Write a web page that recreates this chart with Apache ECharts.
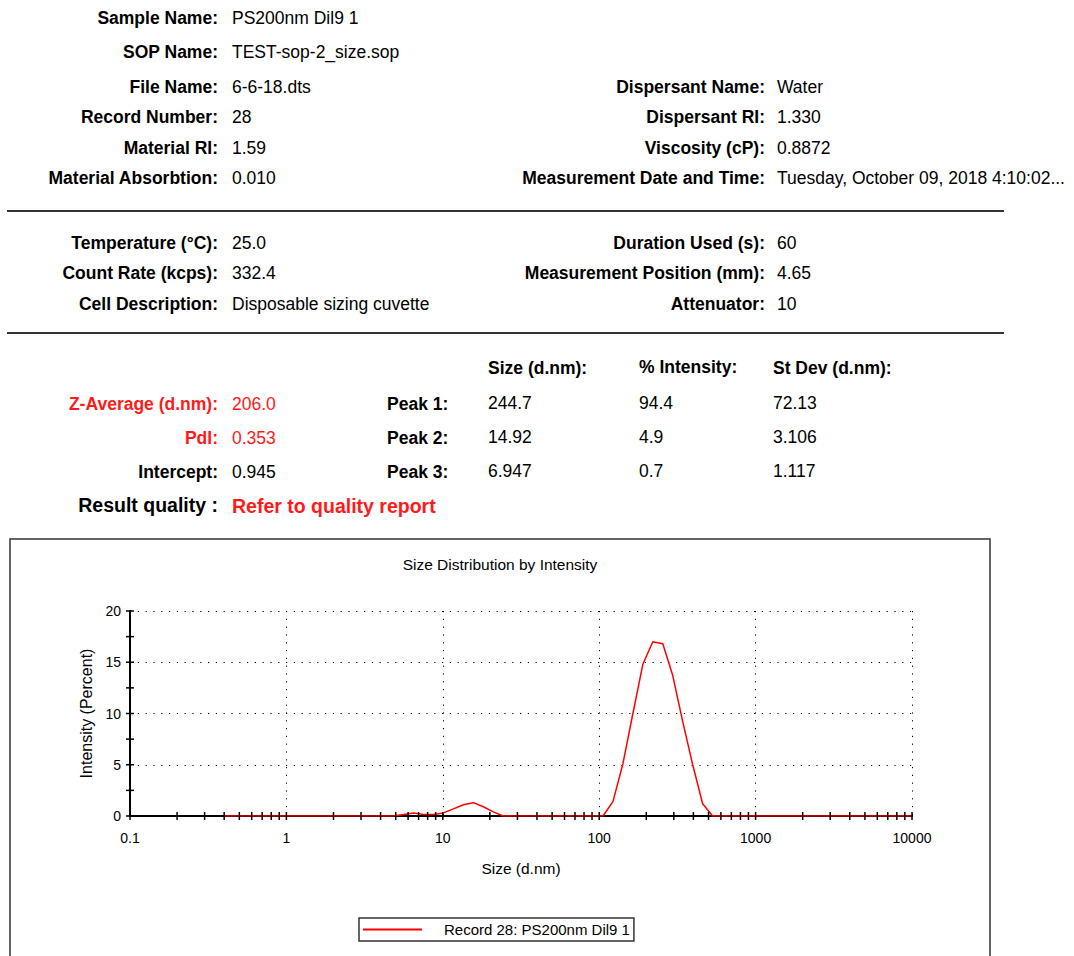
<!DOCTYPE html>
<html>
<head>
<meta charset="utf-8">
<script src="https://cdn.jsdelivr.net/npm/echarts/dist/echarts.min.js"></script>
<style>
  html, body { margin:0; padding:0; background:#fff; }
  body { width:1074px; height:956px; position:relative; overflow:hidden;
         font-family:"Liberation Sans", Arial, sans-serif; color:#000; }
  #chart { position:absolute; left:0; top:0; width:1074px; height:956px; }
  .t { position:absolute; font-size:17.5px; line-height:20px; white-space:nowrap; z-index:2; }
  .b { font-weight:bold; }
  .L { right:856px; text-align:right; }
  .R { right:309px; text-align:right; }
  .v1 { left:232px; }
  .v2 { left:777px; }
  .red { color:#ff1a1a; }
  .big { font-size:19.5px; line-height:22px; }
  .sep { position:absolute; left:7px; width:997px; height:2px; background:#333; z-index:2; }
</style>
</head>
<body>
<div id="chart"></div>

<div class="t b L" style="top:8px">Sample Name:</div><div class="t v1" style="top:8px">PS200nm Dil9 1</div>
<div class="t b L" style="top:42px">SOP Name:</div><div class="t v1" style="top:42px">TEST-sop-2_size.sop</div>
<div class="t b L" style="top:77px">File Name:</div><div class="t v1" style="top:77px">6-6-18.dts</div>
<div class="t b R" style="top:77px">Dispersant Name:</div><div class="t v2" style="top:77px">Water</div>
<div class="t b L" style="top:107px">Record Number:</div><div class="t v1" style="top:107px">28</div>
<div class="t b R" style="top:107px">Dispersant RI:</div><div class="t v2" style="top:107px">1.330</div>
<div class="t b L" style="top:138px">Material RI:</div><div class="t v1" style="top:138px">1.59</div>
<div class="t b R" style="top:138px">Viscosity (cP):</div><div class="t v2" style="top:138px">0.8872</div>
<div class="t b L" style="top:168px">Material Absorbtion:</div><div class="t v1" style="top:168px">0.010</div>
<div class="t b R" style="top:168px">Measurement Date and Time:</div><div class="t v2" style="top:168px">Tuesday, October 09, 2018 4:10:02...</div>

<div class="sep" style="top:210px"></div>

<div class="t b L" style="top:233px">Temperature (°C):</div><div class="t v1" style="top:233px">25.0</div>
<div class="t b R" style="top:233px">Duration Used (s):</div><div class="t v2" style="top:233px">60</div>
<div class="t b L" style="top:263px">Count Rate (kcps):</div><div class="t v1" style="top:263px">332.4</div>
<div class="t b R" style="top:263px">Measurement Position (mm):</div><div class="t v2" style="top:263px">4.65</div>
<div class="t b L" style="top:294px">Cell Description:</div><div class="t v1" style="top:294px">Disposable sizing cuvette</div>
<div class="t b R" style="top:294px">Attenuator:</div><div class="t v2" style="top:294px">10</div>

<div class="sep" style="top:332px"></div>

<div class="t b" style="top:358px;left:488px">Size (d.nm):</div>
<div class="t b" style="top:357px;left:639px">% Intensity:</div>
<div class="t b" style="top:358px;left:773px">St Dev (d.nm):</div>

<div class="t b L red" style="top:394px">Z-Average (d.nm):</div><div class="t v1 red" style="top:394px">206.0</div>
<div class="t b" style="top:394px;left:387px">Peak 1:</div>
<div class="t" style="top:393px;left:488px">244.7</div><div class="t" style="top:393px;left:639px">94.4</div><div class="t" style="top:393px;left:773px">72.13</div>

<div class="t b L red" style="top:428px">PdI:</div><div class="t v1 red" style="top:428px">0.353</div>
<div class="t b" style="top:428px;left:387px">Peak 2:</div>
<div class="t" style="top:427px;left:488px">14.92</div><div class="t" style="top:427px;left:639px">4.9</div><div class="t" style="top:427px;left:773px">3.106</div>

<div class="t b L" style="top:462px">Intercept:</div><div class="t v1" style="top:462px">0.945</div>
<div class="t b" style="top:462px;left:387px">Peak 3:</div>
<div class="t" style="top:461px;left:488px">6.947</div><div class="t" style="top:461px;left:639px">0.7</div><div class="t" style="top:461px;left:773px">1.117</div>

<div class="t b L big" style="top:494px">Result quality :</div>
<div class="t b v1 big red" style="top:495px">Refer to quality report</div>

<script>
// ---- data ----
const sizes = [0.4, 0.4632, 0.5365, 0.6213, 0.7195, 0.8332, 0.9649, 1.117, 1.294, 1.499,
  1.736, 2.01, 2.328, 2.696, 3.122, 3.615, 4.187, 4.849, 5.615, 6.503,
  7.531, 8.721, 10.1, 11.7, 13.54, 15.69, 18.17, 21.04, 24.36, 28.21,
  32.67, 37.84, 43.82, 50.75, 58.77, 68.06, 78.82, 91.28, 105.7, 122.4,
  141.8, 164.2, 190.1, 220.2, 255.0, 295.3, 342.0, 396.1, 458.7, 531.2,
  615.1, 712.4, 825.0, 955.4, 1106, 1281, 1484, 1718, 1990, 2305,
  2669, 3091, 3580, 4145, 4801, 5560, 6439, 7456, 8635, 10000];
const intensity = [0, 0, 0, 0, 0, 0, 0, 0, 0, 0,
  0, 0, 0, 0, 0, 0, 0, 0, 0.15, 0.3,
  0.15, 0.15, 0.3, 0.7, 1.1, 1.3, 0.9, 0.4, 0, 0,
  0, 0, 0, 0, 0, 0, 0, 0, 0, 1.4,
  5.1, 10.0, 14.8, 17.0, 16.8, 13.7, 9.2, 5.0, 1.2, 0,
  0, 0, 0, 0, 0, 0, 0, 0, 0, 0,
  0, 0, 0, 0, 0, 0, 0, 0, 0, 0];
const seriesName = 'Record 28: PS200nm Dil9 1';
const chartTitle = 'Size Distribution by Intensity';
const xTickLabels = ['0.1', '1', '10', '100', '1000', '10000'];
const xTickValues = [0.1, 0.2, 0.3, 0.4, 0.5, 0.6, 0.7, 0.8, 0.9,
  1, 2, 3, 4, 5, 6, 7, 8, 9,
  10, 20, 30, 40, 50, 60, 70, 80, 90,
  100, 200, 300, 400, 500, 600, 700, 800, 900,
  1000, 2000, 3000, 4000, 5000, 6000, 7000, 8000, 9000, 10000];
const yTickValues = [0, 2.5, 5, 7.5, 10, 12.5, 15, 17.5, 20];

const chart = echarts.init(document.getElementById('chart'), null, { renderer: 'svg' });
const font = '"Liberation Sans", Arial, sans-serif';
const dotted = { color: '#000', width: 1, type: [1.2, 6.6] };

const option = {
  animation: false,
  textStyle: { fontFamily: font },
  title: {
    text: chartTitle, left: 495, top: 551, textAlign: 'center',
    textStyle: { fontSize: 15.5, fontWeight: 'normal', color: '#000', fontFamily: font }
  },
  grid: { left: 130, top: 611, width: 782, height: 205, containLabel: false },
  legend: {
    data: [seriesName], left: 359, top: 918,
    borderColor: '#333', borderWidth: 1.5, padding: [4, 4, 4, 4],
    itemWidth: 59, itemHeight: 2, icon: 'rect',
    textStyle: { fontSize: 15, color: '#000', padding: [0, 0, 0, 17], fontFamily: font }
  },
  xAxis: {
    type: 'log', logBase: 10, min: 0.1, max: 10000, splitNumber: 5,
    name: 'Size (d.nm)', nameLocation: 'middle', nameGap: 44,
    nameTextStyle: { fontSize: 15.5, color: '#000', fontFamily: font },
    axisLine: { lineStyle: { color: '#000', width: 2 } },
    axisTick: { show: false },
    axisLabel: {
      fontSize: 14, color: '#000', margin: 15, fontFamily: font,
      formatter: v => xTickLabels[Math.round(Math.log10(v)) + 1]
    },
    splitLine: { show: true, lineStyle: dotted }
  },
  yAxis: {
    type: 'value', min: 0, max: 20, interval: 5,
    name: 'Intensity (Percent)', nameLocation: 'middle', nameGap: 35,
    nameTextStyle: { fontSize: 16, color: '#000', fontFamily: font },
    axisLine: { show: true, lineStyle: { color: '#000', width: 2 } },
    axisTick: { show: false },
    axisLabel: { fontSize: 14, color: '#000', margin: 9, fontFamily: font },
    splitLine: { show: true, lineStyle: dotted }
  },
  graphic: [{
    type: 'rect', shape: { x: 10, y: 539, width: 980, height: 440 },
    style: { fill: null, stroke: '#333', lineWidth: 1.5 }, z: -1
  }],
  series: [
    {
      name: seriesName, type: 'line',
      data: sizes.map((s, i) => [s, intensity[i]]),
      symbol: 'none', smooth: false,
      lineStyle: { color: '#ff0000', width: 1.5 },
      itemStyle: { color: '#ff0000' }, z: 5
    },
    {
      type: 'custom', coordinateSystem: 'cartesian2d', silent: true, z: 6,
      data: xTickValues.map(v => [v, 0]),
      renderItem: (params, api) => {
        const c = api.coord([api.value(0), 0]);
        return { type: 'line', shape: { x1: c[0], y1: c[1] - 4, x2: c[0], y2: c[1] + 4 },
                 style: { stroke: '#000', lineWidth: 1.5 } };
      }
    },
    {
      type: 'custom', coordinateSystem: 'cartesian2d', silent: true, z: 6,
      data: yTickValues.map(v => [0.1, v]),
      renderItem: (params, api) => {
        const c = api.coord([api.value(0), api.value(1)]);
        return { type: 'line', shape: { x1: c[0] - 4, y1: c[1], x2: c[0] + 4, y2: c[1] },
                 style: { stroke: '#000', lineWidth: 1.5 } };
      }
    }
  ]
};
chart.setOption(option);
</script>
</body>
</html>
